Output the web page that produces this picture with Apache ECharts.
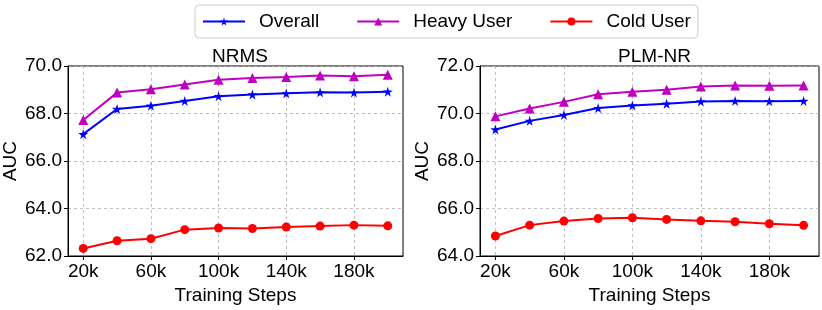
<!DOCTYPE html>
<html><head><meta charset="utf-8">
<script src="https://cdn.jsdelivr.net/npm/echarts@6/dist/echarts.min.js"></script>
<style>html,body{margin:0;padding:0;background:#fff}#c{width:822px;height:310px}</style>
</head><body><div id="c"></div>
<script>
var steps = [20000, 40000, 60000, 80000, 100000, 120000, 140000, 160000, 180000, 200000];
var xTicks = [20000, 60000, 100000, 140000, 180000];
var nrmsOverall = [67.13, 68.19, 68.33, 68.53, 68.73, 68.80, 68.85, 68.89, 68.88, 68.92];
var nrmsHeavy = [67.73, 68.88, 69.02, 69.22, 69.42, 69.49, 69.54, 69.60, 69.57, 69.63];
var nrmsCold = [62.32, 62.64, 62.73, 63.11, 63.18, 63.16, 63.22, 63.26, 63.30, 63.27];
var plmOverall = [69.33, 69.69, 69.94, 70.23, 70.34, 70.41, 70.51, 70.53, 70.52, 70.53];
var plmHeavy = [69.88, 70.21, 70.49, 70.81, 70.92, 71.00, 71.14, 71.18, 71.17, 71.18];
var plmCold = [64.84, 65.30, 65.47, 65.58, 65.61, 65.54, 65.48, 65.44, 65.36, 65.29];
var titles = ['NRMS', 'PLM-NR'];
var seriesNames = ['Overall', 'Heavy User', 'Cold User'];
var yRanges = [[62, 70], [64, 72]];

var FONT = '"Liberation Sans", Arial, sans-serif';
var STAR = 'path://M50,0 L61,35 L98,35 L68,57 L79,91 L50,70 L21,91 L32,57 L2,35 L39,35 Z';
var styles = [
  {color: '#0000ff', symbol: STAR, size: 10},
  {color: '#bf00bf', symbol: 'triangle', size: 10},
  {color: '#ff0000', symbol: 'circle', size: 9}
];
var grids = [
  {left: 67, width: 336, top: 66, bottom: 52.5},
  {left: 480, width: 339, top: 66, bottom: 52.5}
];
function pair(xs, ys) { return xs.map(function (x, i) { return [x, ys[i]]; }); }
var dataSets = [[nrmsOverall, nrmsHeavy, nrmsCold], [plmOverall, plmHeavy, plmCold]];

var option = {
  animation: false,
  backgroundColor: '#fff',
  textStyle: {fontFamily: FONT},
  title: titles.map(function (t, i) {
    return {text: t, left: grids[i].left + grids[i].width / 2, top: 42, textAlign: 'center',
      textStyle: {fontFamily: FONT, fontSize: 19, fontWeight: 'normal', color: '#000'}};
  }),
  legend: {
    left: 195, top: 5, padding: [7, 7], itemGap: 37, itemWidth: 42, itemHeight: 10,
    borderColor: '#cccccc', borderWidth: 1, borderRadius: 4,
    data: seriesNames,
    textStyle: {fontFamily: FONT, fontSize: 19, color: '#000', lineHeight: 19, padding: [0, 0, 0, 9]}
  },
  grid: grids.map(function (g) {
    return {left: g.left, width: g.width, top: g.top, bottom: g.bottom, show: true,
      borderColor: '#000', borderWidth: 1, backgroundColor: 'transparent', containLabel: false};
  }),
  xAxis: grids.map(function (g, i) {
    return {
      type: 'value', gridIndex: i, min: 11000, max: 209000,
      name: 'Training Steps', nameLocation: 'middle', nameGap: 30,
      nameTextStyle: {fontFamily: FONT, fontSize: 19, color: '#000'},
      axisLine: {show: true, lineStyle: {color: '#000', width: 1}},
      axisTick: {show: true, inside: false, length: 4, customValues: xTicks, lineStyle: {color: '#000'}},
      axisLabel: {customValues: xTicks, margin: 6, fontFamily: FONT, fontSize: 19, color: '#000',
        formatter: function (v) { return (v / 1000) + 'k'; }},
      splitLine: {show: true, lineStyle: {color: '#b0b0b0', type: [3, 3], width: 0.8}}
    };
  }),
  yAxis: grids.map(function (g, i) {
    return {
      type: 'value', gridIndex: i, min: yRanges[i][0], max: yRanges[i][1], interval: 2,
      name: 'AUC', nameLocation: 'middle', nameGap: 48,
      nameTextStyle: {fontFamily: FONT, fontSize: 19, color: '#000'},
      axisLine: {show: true, lineStyle: {color: '#000', width: 1}},
      axisTick: {show: true, inside: false, length: 4, lineStyle: {color: '#000'}},
      axisLabel: {margin: 6, fontFamily: FONT, fontSize: 19, color: '#000',
        formatter: function (v) { return v.toFixed(1); }},
      splitLine: {show: true, lineStyle: {color: '#b0b0b0', type: [3, 3], width: 0.8}}
    };
  }),
  series: []
};
dataSets.forEach(function (set, gi) {
  set.forEach(function (vals, si) {
    var s = styles[si];
    option.series.push({
      type: 'line', name: seriesNames[si], xAxisIndex: gi, yAxisIndex: gi,
      data: pair(steps, vals), symbol: s.symbol, symbolSize: s.size, showSymbol: true,
      lineStyle: {color: s.color, width: 2}, itemStyle: {color: s.color},
      emphasis: {disabled: true}, z: 3
    });
  });
});
var chart = echarts.init(document.getElementById('c'), null, {renderer: 'canvas'});
chart.setOption(option);
</script></body></html>
